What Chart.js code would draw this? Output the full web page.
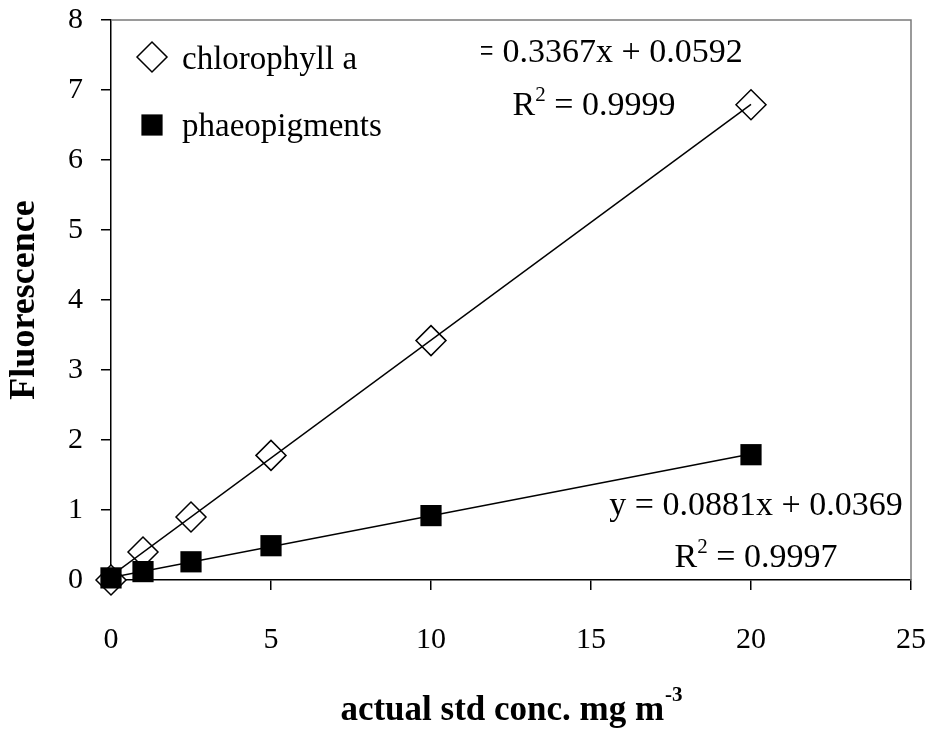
<!DOCTYPE html>
<html>
<head>
<meta charset="utf-8">
<script src="https://cdn.jsdelivr.net/npm/chart.js@4.4.1/dist/chart.umd.min.js"></script>
<style>
  html, body { margin: 0; padding: 0; background: #fff; }
  canvas { display: block; }
</style>
</head>
<body>
<canvas id="chart" width="932" height="729"></canvas>
<script>
// Standard concentrations (mg m-3) and measured fluorescence
const concentrations = [0, 1, 2.5, 5, 10, 20];
const chlorophyllA = [0.0, 0.40, 0.90, 1.78, 3.42, 6.79];
const phaeopigments = [0.03, 0.12, 0.26, 0.49, 0.92, 1.79];
const seriesNames = ['chlorophyll a', 'phaeopigments'];

// Linear regression results for each series
const fitSlopes = [0.3367, 0.0881];
const fitIntercepts = [0.0592, 0.0369];
const fitR2 = [0.9999, 0.9997];
const fitRange = [0, 20];

// Axis ticks and titles
const xTickValues = [0, 5, 10, 15, 20, 25];
const yTickValues = [0, 1, 2, 3, 4, 5, 6, 7, 8];
const xAxisTitle = 'actual std conc. mg m';
const xAxisTitleExp = '-3';
const yAxisTitle = 'Fluorescence';

const SERIF = '"Liberation Serif", "Times New Roman", serif';
const MARKER_R = 15;

const toPoints = (xs, ys) => xs.map((x, i) => ({ x, y: ys[i] }));
const fitLine = (k) => fitRange.map(x => ({ x, y: fitSlopes[k] * x + fitIntercepts[k] }));

function drawDiamond(ctx, x, y, r) {
  ctx.beginPath();
  ctx.moveTo(x - r, y);
  ctx.lineTo(x, y - r);
  ctx.lineTo(x + r, y);
  ctx.lineTo(x, y + r);
  ctx.closePath();
  ctx.fillStyle = '#fff';
  ctx.fill();
  ctx.lineWidth = 1.5;
  ctx.strokeStyle = '#000';
  ctx.stroke();
}

function drawSquare(ctx, x, y, r) {
  const h = r * Math.SQRT1_2;
  ctx.fillStyle = '#000';
  ctx.fillRect(x - h, y - h, 2 * h, 2 * h);
}

// Text "R² = value" with a raised small 2, centred on cx
function drawR2(ctx, text, cx, baseline, size) {
  const big = `${size}px ${SERIF}`;
  const small = `${Math.round(size * 0.62)}px ${SERIF}`;
  ctx.font = big;
  const wR = ctx.measureText('R').width;
  const wRest = ctx.measureText(' = ' + text).width;
  ctx.font = small;
  const w2 = ctx.measureText('2').width;
  let x = cx - (wR + w2 + wRest) / 2;
  ctx.textAlign = 'left';
  ctx.font = big;
  ctx.fillText('R', x, baseline);
  x += wR;
  ctx.font = small;
  ctx.fillText('2', x, baseline - size * 0.4);
  x += w2;
  ctx.font = big;
  ctx.fillText(' = ' + text, x, baseline);
}

const decorations = {
  id: 'decorations',
  beforeDatasetsDraw(chart) {
    const { ctx, chartArea: a } = chart;
    ctx.save();
    ctx.strokeStyle = '#7a7a7a';
    ctx.lineWidth = 1.5;
    ctx.beginPath();
    ctx.moveTo(a.left, a.top);
    ctx.lineTo(a.right, a.top);
    ctx.lineTo(a.right, a.bottom);
    ctx.stroke();
    ctx.restore();
  },
  afterDraw(chart) {
    const { ctx, chartArea: a } = chart;
    ctx.save();
    ctx.fillStyle = '#000';
    ctx.textBaseline = 'alphabetic';

    // Legend
    drawDiamond(ctx, 152, 57, MARKER_R);
    drawSquare(ctx, 152, 125, MARKER_R);
    ctx.fillStyle = '#000';
    ctx.font = `33px ${SERIF}`;
    ctx.textAlign = 'left';
    ctx.fillText(seriesNames[0], 182, 69);
    ctx.fillText(seriesNames[1], 182, 136);

    // Regression equations
    const eqSize = 34;
    const eqText = (k) => `y = ${fitSlopes[k].toFixed(4)}x + ${fitIntercepts[k].toFixed(4)}`;
    ctx.font = `${eqSize}px ${SERIF}`;
    ctx.textAlign = 'center';
    ctx.save();
    ctx.beginPath();
    ctx.rect(481, 0, 932 - 481, 729);
    ctx.clip();
    ctx.fillText(eqText(0), 596, 62);
    ctx.restore();
    drawR2(ctx, fitR2[0].toFixed(4), 594, 115, eqSize);

    ctx.font = `${eqSize}px ${SERIF}`;
    ctx.textAlign = 'center';
    ctx.fillText(eqText(1), 756, 515);
    drawR2(ctx, fitR2[1].toFixed(4), 756, 567, eqSize);

    // X axis title with exponent
    const cx = (a.left + a.right) / 2;
    const mainFont = `bold 35px ${SERIF}`;
    const expFont = `bold 21px ${SERIF}`;
    ctx.font = mainFont;
    const w1 = ctx.measureText(xAxisTitle).width;
    ctx.font = expFont;
    const w2 = ctx.measureText(xAxisTitleExp).width;
    const x0 = cx - (w1 + w2) / 2;
    ctx.textAlign = 'left';
    ctx.font = mainFont;
    ctx.fillText(xAxisTitle, x0, 720);
    ctx.font = expFont;
    ctx.fillText(xAxisTitleExp, x0 + w1 + 1, 701);
    ctx.restore();
  }
};

new Chart(document.getElementById('chart'), {
  type: 'scatter',
  data: {
    datasets: [
      {
        label: seriesNames[0] + ' fit',
        data: fitLine(0),
        showLine: true,
        borderColor: '#000',
        borderWidth: 1.5,
        pointRadius: 0,
        order: 0
      },
      {
        label: seriesNames[1] + ' fit',
        data: fitLine(1),
        showLine: true,
        borderColor: '#000',
        borderWidth: 1.5,
        pointRadius: 0,
        order: 0
      },
      {
        label: seriesNames[1],
        data: toPoints(concentrations, phaeopigments),
        pointStyle: 'rect',
        pointRadius: MARKER_R,
        backgroundColor: '#000',
        borderColor: '#000',
        borderWidth: 0,
        clip: false,
        order: 1
      },
      {
        label: seriesNames[0],
        data: toPoints(concentrations, chlorophyllA),
        pointStyle: 'rectRot',
        pointRadius: MARKER_R,
        backgroundColor: '#fff',
        borderColor: '#000',
        borderWidth: 1.5,
        clip: false,
        order: 2
      }
    ]
  },
  options: {
    responsive: false,
    animation: false,
    devicePixelRatio: 1,
    layout: { padding: { top: 20, right: 21, bottom: 0, left: 0 } },
    plugins: {
      legend: { display: false },
      tooltip: { enabled: false }
    },
    scales: {
      x: {
        type: 'linear',
        min: 0,
        max: 25,
        afterFit: (s) => { s.height = 149; s.paddingLeft = 0; s.paddingRight = 0; },
        afterBuildTicks: (s) => { s.ticks = xTickValues.map(v => ({ value: v })); },
        grid: { display: true, drawOnChartArea: false, drawTicks: true, tickLength: 10, color: '#000', lineWidth: 1.5 },
        border: { display: true, color: '#000', width: 1.5 },
        ticks: { color: '#000', font: { family: SERIF, size: 30 }, padding: 32, maxRotation: 0 }
      },
      y: {
        type: 'linear',
        min: 0,
        max: 8,
        afterFit: (s) => { s.width = 111; s.paddingTop = 0; s.paddingBottom = 0; },
        afterBuildTicks: (s) => { s.ticks = yTickValues.map(v => ({ value: v })); },
        grid: { display: true, drawOnChartArea: false, drawTicks: true, tickLength: 10, color: '#000', lineWidth: 1.5 },
        border: { display: true, color: '#000', width: 1.5 },
        ticks: { color: '#000', font: { family: SERIF, size: 30 }, padding: 18 },
        title: {
          display: true,
          text: yAxisTitle,
          color: '#000',
          font: { family: SERIF, size: 36, weight: 'bold' },
          padding: { top: 3, bottom: 0 }
        }
      }
    }
  },
  plugins: [decorations]
});
</script>
</body>
</html>
